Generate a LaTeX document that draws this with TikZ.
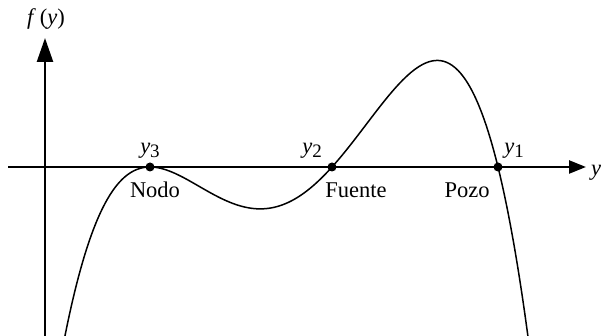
\documentclass[tikz,border=0pt]{standalone}
\usepackage{fontspec}
\setmainfont{Liberation Serif}
\usetikzlibrary{arrows.meta}
\tikzset{
  axisline/.style={line width=2.4pt},
  curveline/.style={line width=1.5pt},
  rootdot/.style={circle,fill=black,inner sep=0pt,minimum size=9pt},
  lbl/.style={inner sep=0pt,font=\fontsize{22.5}{24}\selectfont},
}
\newcommand{\yy}[1]{\textit{y}\raisebox{-0.35ex}{\fontsize{19}{20}\selectfont #1}}
\begin{document}
\begin{tikzpicture}[x=1pt,y=1pt]
\useasboundingbox (0,0) rectangle (603,-336);
% axes
\coordinate (vb) at (45,-336);
\coordinate (vt) at (45,-38);
\coordinate (hl) at (8,-167);
\coordinate (hr) at (586,-167);
\draw[axisline,-{Triangle[length=24pt,width=16pt]}] (vb) -- (vt);
\draw[axisline,-{Triangle[length=17pt,width=13pt]}] (hl) -- (hr);
% curve
\draw[curveline,domain=64:528,samples=160,smooth]
  plot (\x,{-167-20.2*(\x/100-1.5)*(\x/100-1.5)*(\x/100-3.32)*(\x/100-4.98)});
% roots
\node[rootdot] (r3) at (150,-167) {};
\node[rootdot] (r2) at (332,-167) {};
\node[rootdot] (r1) at (498,-167) {};
% labels
\node[lbl] (fy) at (46,-19) {\textit{f}\,(\textit{y})};
\node[lbl] (ylab) at (596,-173) {\textit{y}};
\node[lbl] (l3) at (150,-151) {\yy{3}};
\node[lbl] (l2) at (312,-151) {\yy{2}};
\node[lbl] (l1) at (514,-151) {\yy{1}};
\node[lbl] (nodo) at (155,-190) {Nodo};
\node[lbl] (fuente) at (356,-190) {Fuente};
\node[lbl] (pozo) at (467,-190) {Pozo};
\end{tikzpicture}
\end{document}
